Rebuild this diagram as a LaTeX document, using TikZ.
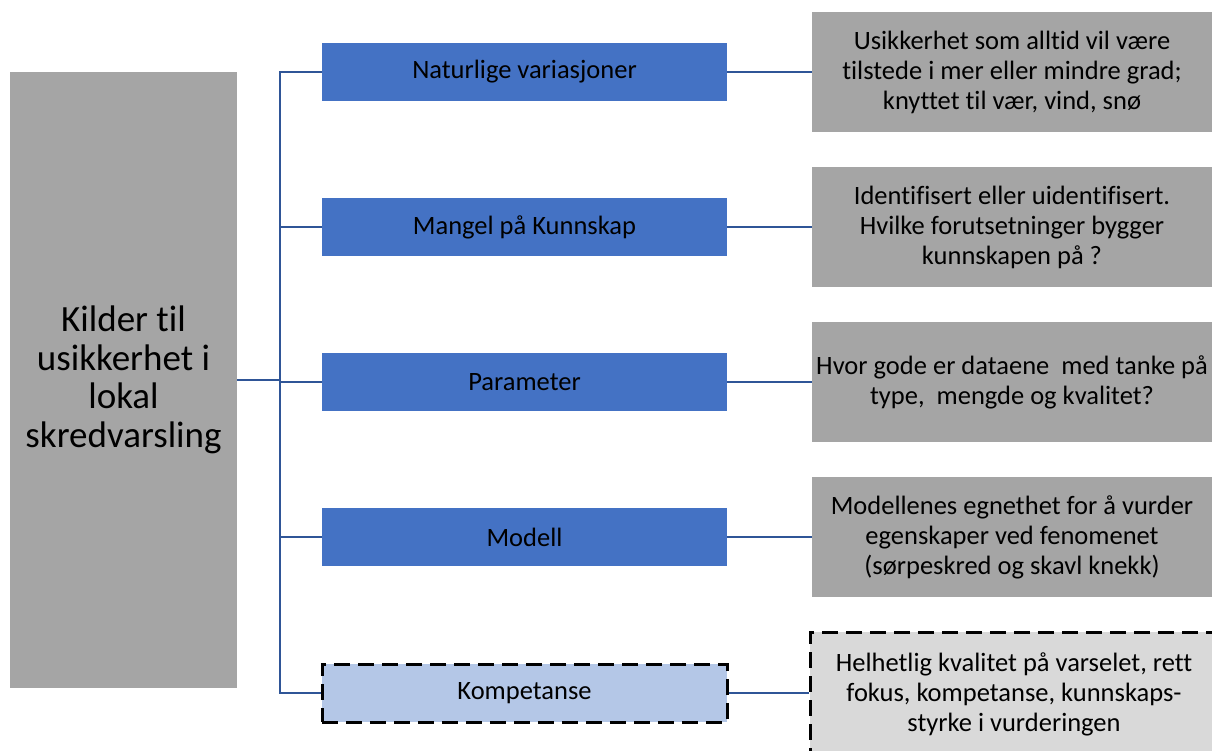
\documentclass[tikz,border=0pt]{standalone}
\usepackage{fontspec}
\setmainfont{Carlito}[Ligatures={NoCommon,NoContextual}]
\definecolor{srcgray}{HTML}{A5A5A5}
\definecolor{boxblue}{HTML}{4472C4}
\definecolor{lightblue}{HTML}{B4C7E7}
\definecolor{lightgray}{HTML}{D9D9D9}
\definecolor{linkblue}{HTML}{2F5597}
\begin{document}
\begin{tikzpicture}[x=1pt,y=-1pt,
  srcbox/.style={fill=srcgray, minimum width=227pt, minimum height=616pt, inner sep=0pt,
    align=center, font=\fontsize{37}{38.5}\selectfont},
  catbox/.style={fill=boxblue, minimum width=405pt, minimum height=58pt, inner sep=0pt,
    font=\fontsize{26.5}{30}\selectfont},
  descbox/.style={fill=srcgray, minimum width=400pt, minimum height=120pt, inner sep=0pt,
    align=center, font=\fontsize{26.5}{30}\selectfont},
  dashedge/.style={draw=black, line width=3pt, dash pattern=on 16pt off 8pt},
  conn/.style={draw=linkblue, line width=2pt}]
\useasboundingbox (0,0) rectangle (1212,751);
\clip (0,0) rectangle (1212,751);

% source of uncertainty
\node[srcbox] (src) at (123.5,380) {Kilder til\\usikkerhet i\\lokal\\skredvarsling};

% categories
\node[catbox] (b1) at (524.5,72)  {Naturlige variasjoner};
\node[catbox] (b2) at (524.5,227) {Mangel på Kunnskap};
\node[catbox] (b3) at (524.5,382) {Parameter};
\node[catbox] (b4) at (524.5,537) {Modell};
\node[catbox, fill=lightblue, dashedge] (b5) at (524.5,693) {Kompetanse};

% descriptions
\node[descbox] (d1) at (1012,72)  {Usikkerhet som alltid vil være\\tilstede i mer eller mindre grad;\\knyttet til vær, vind, snø};
\node[descbox] (d2) at (1012,227) {Identifisert eller uidentifisert.\\Hvilke forutsetninger bygger\\kunnskapen på ?};
\node[descbox] (d3) at (1012,382) {Hvor gode er dataene\ \ med tanke på\\type,\ \ mengde og kvalitet?};
\node[descbox] (d4) at (1012,537) {Modellenes egnethet for å vurder\\egenskaper ved fenomenet\\(sørpeskred og skavl knekk)};
\node[descbox, fill=lightgray, dashedge, minimum width=408pt, minimum height=124pt] (d5) at (1014,694) {Helhetlig kvalitet på varselet, rett\\fokus, kompetanse, kunnskaps-\\styrke i vurderingen};

% tree connectors
\coordinate (trunk) at (280,72);
\draw[conn] (b1.west) -- (b1.west -| trunk) -- (b5.west -| trunk) -- (b5.west);
\draw[conn] (b2.west) -- (b2.west -| trunk);
\draw[conn] (b3.west) -- (b3.west -| trunk);
\draw[conn] (b4.west) -- (b4.west -| trunk);
\draw[conn] (src.east) -- (src.east -| trunk);

% category to description
\draw[conn] (b1.east) -- (d1.west);
\draw[conn] (b2.east) -- (d2.west);
\draw[conn] (b3.east) -- (d3.west);
\draw[conn] (b4.east) -- (d4.west);
\draw[conn] (b5.east) -- (b5.east -| d5.west);
\end{tikzpicture}
\end{document}
